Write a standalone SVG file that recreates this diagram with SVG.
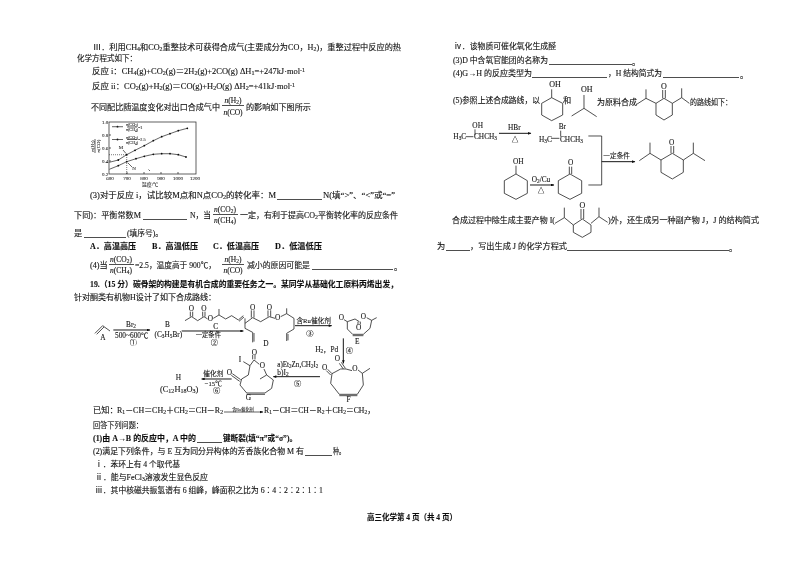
<svg xmlns="http://www.w3.org/2000/svg" width="800" height="565" viewBox="0 0 800 565">
<defs>
<style>
text{font-family:"Liberation Serif","Noto Sans CJK SC",serif;fill:#111;font-size:8.2px;stroke:#111;stroke-width:.12}
.b{font-weight:700}
.c{text-anchor:middle}
.s{font-size:72%;baseline-shift:-22%}
.u{font-size:70%;baseline-shift:35%}
.r{fill:none;stroke:#222;stroke-width:.8}
.z text{font-size:22px;stroke-width:.3}
.z .m{font-size:22px}
.z .t{font-size:19px}
.z .w{font-size:20px}
.z path,.z polygon.o{fill:none;stroke:#1c1c1c;stroke-width:2.3;stroke-linejoin:round}
.ax{fill:none;stroke:#222;stroke-width:.7}
.k{fill:none;stroke:#222;stroke-width:.6;stroke-dasharray:1 1}
.f{font-size:7.5px}
.l{font-size:5px;stroke-width:.05}
.d{fill:#111}
</style>
<marker id="ah" viewBox="0 0 10 8" refX="9" refY="4" markerWidth="12" markerHeight="8" markerUnits="userSpaceOnUse" orient="auto"><path d="M0 0L10 4L0 8Z" style="fill:#111;stroke:none"/></marker>
<marker id="ah1" viewBox="0 0 10 8" refX="9" refY="4" markerWidth="4" markerHeight="3" markerUnits="userSpaceOnUse" orient="auto"><path d="M0 0L10 4L0 8Z" style="fill:#111;stroke:none"/></marker>
<filter id="scan" x="0" y="0" width="100%" height="100%"><feGaussianBlur stdDeviation=".3"/></filter>
</defs>
<rect width="800" height="565" fill="#fff"/>
<g filter="url(#scan)">
<g id="left-text">
<text x="93" y="50" textLength="308" lengthAdjust="spacingAndGlyphs">Ⅲ．利用CH<tspan class="s">4</tspan>和CO<tspan class="s">2</tspan>重整技术可获得合成气(主要成分为CO，H<tspan class="s">2</tspan>)，重整过程中反应的热</text>
<text x="77" y="61" textLength="60" lengthAdjust="spacingAndGlyphs">化学方程式如下：</text>
<text x="92" y="74" textLength="213" lengthAdjust="spacingAndGlyphs">反应 i：CH<tspan class="s">4</tspan>(g)+CO<tspan class="s">2</tspan>(g)＝2H<tspan class="s">2</tspan>(g)+2CO(g)   ΔH<tspan class="s">1</tspan>=+247kJ·mol<tspan class="u">-1</tspan></text>
<text x="92" y="89" textLength="203" lengthAdjust="spacingAndGlyphs">反应 ii：CO<tspan class="s">2</tspan>(g)+H<tspan class="s">2</tspan>(g)＝CO(g)+H<tspan class="s">2</tspan>O(g)   ΔH<tspan class="s">2</tspan>=+41kJ·mol<tspan class="u">-1</tspan></text>
<text x="91" y="110" textLength="129" lengthAdjust="spacingAndGlyphs">不同配比随温度变化对出口合成气中</text>
<text class="c f" x="233" y="103"><tspan font-style="italic">n</tspan>(H<tspan class="s">2</tspan>)</text><path class="r" d="M222 105.500H244"/><text class="c f" x="233" y="115"><tspan font-style="italic">n</tspan>(CO)</text>
<text x="246" y="110" textLength="65" lengthAdjust="spacingAndGlyphs">的影响如下图所示</text>

<text x="90" y="198" textLength="186" lengthAdjust="spacingAndGlyphs">(3)对于反应 i，试比较M点和N点CO<tspan class="s">2</tspan>的转化率：M</text>
<text x="323" y="198" textLength="72" lengthAdjust="spacingAndGlyphs">N(填“&gt;”、“&lt;”或“=”</text>
<text x="74" y="218" textLength="67" lengthAdjust="spacingAndGlyphs">下同)：平衡常数M</text>
<text x="190" y="218" textLength="21" lengthAdjust="spacingAndGlyphs">N，当</text>
<text class="c f" x="225" y="212"><tspan font-style="italic">n</tspan>(CO<tspan class="s">2</tspan>)</text><path class="r" d="M213 214.500H238"/><text class="c f" x="225" y="223"><tspan font-style="italic">n</tspan>(CH<tspan class="s">4</tspan>)</text>
<text x="240" y="218" textLength="158" lengthAdjust="spacingAndGlyphs">一定，有利于提高CO<tspan class="s">2</tspan>平衡转化率的反应条件</text>
<text x="74" y="236">是</text>
<text x="127" y="236" textLength="36" lengthAdjust="spacingAndGlyphs">(填序号)。</text>
<text class="b" x="90" y="249" textLength="46" lengthAdjust="spacingAndGlyphs">A．高温高压</text>
<text class="b" x="152" y="249" textLength="46" lengthAdjust="spacingAndGlyphs">B．高温低压</text>
<text class="b" x="213" y="249" textLength="46" lengthAdjust="spacingAndGlyphs">C．低温高压</text>
<text class="b" x="275" y="249" textLength="47" lengthAdjust="spacingAndGlyphs">D．低温低压</text>
<text x="90" y="268">(4)当</text>
<text class="c f" x="121" y="262"><tspan font-style="italic">n</tspan>(CO<tspan class="s">2</tspan>)</text><path class="r" d="M109 264.500H134"/><text class="c f" x="121" y="273"><tspan font-style="italic">n</tspan>(CH<tspan class="s">4</tspan>)</text>
<text x="135" y="268" textLength="81" lengthAdjust="spacingAndGlyphs">=2.5，温度高于 900℃，</text>
<text class="c f" x="233" y="262"><tspan font-style="italic">n</tspan>(H<tspan class="s">2</tspan>)</text><path class="r" d="M222 264.500H244"/><text class="c f" x="233" y="273"><tspan font-style="italic">n</tspan>(CO)</text>
<text x="247" y="268" textLength="63" lengthAdjust="spacingAndGlyphs">减小的原因可能是</text>
<text x="394" y="270">。</text>
<text class="b" x="90" y="287" textLength="308" lengthAdjust="spacingAndGlyphs">19.（15 分）碳骨架的构建是有机合成的重要任务之一。某同学从基础化工原料丙烯出发，</text>
<text x="74" y="300" textLength="142" lengthAdjust="spacingAndGlyphs">针对酮类有机物H设计了如下合成路线：</text>
<path class="r" d="M277 199.500H322M143 219.500H187M84 237.500H126M312 269.500H393"/>
</g>

<g id="chart">
<rect class="ax" x="109" y="122" width="87" height="52"/>
<path class="ax" d="M109 135h2M109 148h2M109 161h2M127 174v-2M144 174v-2M161 174v-2M178 174v-2"/>
<text class="l" x="102" y="124">1.0</text><text class="l" x="102" y="137">0.8</text><text class="l" x="102" y="150">0.6</text><text class="l" x="102" y="163">0.4</text><text class="l" x="102" y="176">0.2</text>
<text class="l c" x="110" y="180">600</text><text class="l c" x="127" y="180">700</text><text class="l c" x="144" y="180">800</text><text class="l c" x="161" y="180">900</text><text class="l c" x="178" y="180">1000</text><text class="l c" x="195" y="180">1200</text>
<text class="l c" x="150" y="185.500">温度/℃</text>
<text class="l c" transform="translate(94 146) rotate(-90)"><tspan font-style="italic">n</tspan>(H<tspan class="s">2</tspan>)</text>
<path class="ax" d="M95 139v14"/>
<text class="l c" transform="translate(99.500 146) rotate(-90)"><tspan font-style="italic">n</tspan>(CO)</text>
<polyline class="ax" points="109.300,162.300 118.300,160 126.700,154.700 135,150.300 144.300,145.700 153.300,140.700 161.700,136.700 170,133.700 178.300,130.700 187.300,128.300"/>
<polyline class="ax" points="109.300,169.300 118.300,165.700 126.700,161.700 136,158.700 144.300,156.300 153.300,154.300 161.700,153.700 170,153.700 178.300,154.700 186,157"/>
<g class="d">
<circle cx="118.300" cy="160" r=".9"/><circle cx="126.700" cy="154.700" r=".9"/><circle cx="135" cy="150.300" r=".9"/><circle cx="144.300" cy="145.700" r=".9"/><circle cx="153.300" cy="140.700" r=".9"/><circle cx="161.700" cy="136.700" r=".9"/><circle cx="170" cy="133.700" r=".9"/><circle cx="178.300" cy="130.700" r=".9"/><circle cx="187.300" cy="128.300" r=".9"/>
<circle cx="118.300" cy="165.700" r=".9"/><circle cx="126.700" cy="161.700" r=".9"/><circle cx="136" cy="158.700" r=".9"/><circle cx="144.300" cy="156.300" r=".9"/><circle cx="153.300" cy="154.300" r=".9"/><circle cx="161.700" cy="153.700" r=".9"/><circle cx="170" cy="153.700" r=".9"/><circle cx="178.300" cy="154.700" r=".9"/><circle cx="186" cy="157" r=".9"/>
<circle cx="117.500" cy="126.700" r=".9"/><circle cx="117.500" cy="139.500" r=".9"/>
</g>
<path class="ax" d="M112 126.700h11M112 139.500h11"/>
<text class="l c" style="font-size:4.200px" x="132" y="126"><tspan font-style="italic">n</tspan>(CO<tspan class="s">2</tspan>)</text><path class="ax" d="M127 127h10"/><text class="l c" style="font-size:4.200px" x="132" y="131"><tspan font-style="italic">n</tspan>(CH<tspan class="s">4</tspan>)</text><text class="l" style="font-size:4.200px" x="138" y="128.500">=1</text>
<text class="l c" style="font-size:4.200px" x="132" y="138.500"><tspan font-style="italic">n</tspan>(CO<tspan class="s">2</tspan>)</text><path class="ax" d="M127 139.500h10"/><text class="l c" style="font-size:4.200px" x="132" y="143.500"><tspan font-style="italic">n</tspan>(CH<tspan class="s">4</tspan>)</text><text class="l" style="font-size:4.200px" x="138" y="141">=2.5</text>
<path class="k" d="M109 154.700H126.700V174"/>
<text class="l c" x="121" y="149">M</text><path class="ax" d="M123 150l3 3.500M128 163l4 4"/><text class="l c" x="134" y="170">N</text>
<path class="ax" d="M148.500 169.500l1.500 1.500"/>
</g>

<g id="synthesis" class="z" transform="translate(70 305) scale(.33333)">
<g id="node-A"><path d="M75 85L98 62L120 78M80 88L102 66"/><text class="c" x="99" y="104">A</text></g>
<g id="node-B"><text class="c" x="292" y="66">B</text><text class="c" x="295" y="96">(C<tspan class="s">3</tspan>H<tspan class="s">5</tspan>Br)</text></g>
<g id="node-C"><path d="M345 47L365 35L383 47L402 35L413 42M361 35V20M368 35V20M398 35V20M405 35V20M430 40L447 30L447 12M447 30L467 42L485 32L505 45L520 32M507 49L522 36"/><text class="c" x="364" y="18">O</text><text class="c" x="402" y="18">O</text><text class="c" x="421" y="49">O</text><text class="c" x="437" y="71">C</text></g>
<g id="node-D"><path d="M525 40V70L548 82V112M552 84V110M525 55L548 38L572 50L598 35L615 40M544 38V16M552 38V16M594 35V16M602 35V16M632 35L650 26V10M650 26L672 40V72L650 85V108M654 87V106"/><text class="c" x="548" y="15">O</text><text class="c" x="598" y="15">O</text><text class="c" x="623" y="46">O</text><text class="c" x="588" y="122">D</text></g>
<g id="node-E"><path d="M822 44L832 50L855 42L868 50M832 50V72L848 88H880L900 70L905 46L890 38M905 46L920 38M848 92H880M864 50V58M871 50V58"/><text class="c" x="814" y="45">O</text><text class="c" x="880" y="43">O</text><text class="c" x="866" y="74">O</text><text class="c" x="862" y="116">E</text></g>
<g id="node-F"><path d="M773 193L786 206M769 197L782 210M786 206L782 235L808 268H862L880 240L877 205L864 195M877 205L900 190M786 206L812 192L828 192L846 197M808 272H862M814 172L826 190M808 175L820 192"/><text class="c" x="802" y="168">O</text><text class="c" x="764" y="196">O</text><text class="c" x="855" y="198">O</text><text class="c" x="836" y="292">F</text></g>
<g id="node-G"><path d="M520 170L540 182L552 165L568 178M548 163V150M555 163V150M540 182L535 210L515 222M487 206L512 224M484 211L509 229M515 222L510 240L530 264H585L605 250L610 225L590 210L582 192M590 210L570 222M530 268H585"/><text class="c" x="510" y="172">I</text><text class="c" x="553" y="149">O</text><text class="c" x="577" y="188">O</text><text class="c" x="478" y="211">O</text><text class="c" x="535" y="286">G</text></g>
<g id="node-H"><text class="c" x="325" y="226">H</text><text x="270" y="262" style="font-size:27px" textLength="115" lengthAdjust="spacingAndGlyphs">(C<tspan class="s">12</tspan>H<tspan class="s">18</tspan>O<tspan class="s">3</tspan>)</text></g>
<g id="connectors">
<path d="M130 75H240" marker-end="url(#ah)" style="stroke-width:3"/>
<path d="M335 78H520" marker-end="url(#ah)" style="stroke-width:3"/>
<path d="M675 62H785" marker-end="url(#ah)" style="stroke-width:3"/>
<path d="M820 100V175" marker-end="url(#ah)" style="stroke-width:3"/>
<path d="M750 215H610" marker-end="url(#ah)" style="stroke-width:3"/>
<path d="M485 222H395" marker-end="url(#ah)" style="stroke-width:3"/>
</g>
<text class="c" x="183" y="66">Br<tspan class="s">2</tspan></text>
<text class="c" x="185" y="99">500~600℃</text>
<text class="c" x="190" y="120">①</text>
<text class="c t" x="415" y="96">一定条件</text>
<text class="c" x="433" y="120">②</text>
<text class="c w" x="731" y="55">含Ru催化剂</text>
<text class="c" x="720" y="92">③</text>
<text class="c" x="770" y="140">H<tspan class="s">2</tspan>，Pd</text>
<text class="c" x="838" y="145">④</text>
<text x="622" y="187" textLength="123" lengthAdjust="spacingAndGlyphs">a)Et<tspan class="s">2</tspan>Zn,CH<tspan class="s">2</tspan>I<tspan class="s">2</tspan></text>
<text x="622" y="211">b)I<tspan class="s">2</tspan></text>
<text class="c" x="683" y="244">⑤</text>
<text class="c w" x="430" y="213">催化剂</text>
<text class="c w" x="430" y="242">−15℃</text>
<text class="c" x="440" y="265">⑥</text>
</g>

<g id="bottom-text">
<text x="93" y="413">已知：</text>
<text x="117" y="413" textLength="106" lengthAdjust="spacingAndGlyphs">R<tspan class="s">1</tspan>－CH＝CH<tspan class="s">2</tspan>＋CH<tspan class="s">2</tspan>＝CH－R<tspan class="s">2</tspan></text>
<text class="c" style="font-size:4.200px;stroke-width:.05" x="243" y="410.500">含Ru催化剂</text>
<path class="ax" d="M224 412H263" marker-end="url(#ah1)" style="stroke-width:.7"/>
<text x="264" y="413" textLength="111" lengthAdjust="spacingAndGlyphs">R<tspan class="s">1</tspan>－CH＝CH－R<tspan class="s">2</tspan>＋CH<tspan class="s">2</tspan>＝CH<tspan class="s">2</tspan>，</text>
<text x="93" y="428" textLength="50" lengthAdjust="spacingAndGlyphs">回答下列问题：</text>
<text x="93" y="441" textLength="103" lengthAdjust="spacingAndGlyphs" class="b">(1)由 A→B 的反应中，A 中的</text>
<text x="223" y="441" textLength="74" lengthAdjust="spacingAndGlyphs" class="b">键断裂(填“π”或“σ”)。</text>
<text x="93" y="454" textLength="211" lengthAdjust="spacingAndGlyphs">(2)满足下列条件，与 E 互为同分异构体的芳香族化合物 M 有</text>
<text x="333" y="454" textLength="12" lengthAdjust="spacingAndGlyphs">种。</text>
<text x="95" y="467" textLength="85" lengthAdjust="spacingAndGlyphs">ⅰ．苯环上有 4 个取代基</text>
<text x="95" y="480" textLength="113" lengthAdjust="spacingAndGlyphs">ⅱ．能与FeCl<tspan class="s">3</tspan>溶液发生显色反应</text>
<text x="95" y="493" textLength="228" lengthAdjust="spacingAndGlyphs">ⅲ．其中核磁共振氢谱有 6 组峰，峰面积之比为 6∶4∶2∶2∶1∶1</text>
<path class="r" d="M197 442.500H222M305 455.500H332"/>
</g>

<text id="footer" class="b" x="367" y="520" textLength="90" lengthAdjust="spacingAndGlyphs">高三化学第 4 页（共 4 页）</text>

<g id="right-text">
<text x="454" y="49" textLength="102" lengthAdjust="spacingAndGlyphs">ⅳ．该物质可催化氧化生成醛</text>
<text x="453" y="63" textLength="95" lengthAdjust="spacingAndGlyphs">(3)D 中含氧官能团的名称为</text>
<text x="632" y="65">。</text>
<text x="453" y="76" textLength="79" lengthAdjust="spacingAndGlyphs">(4)G→H 的反应类型为</text>
<text x="608" y="76" textLength="54" lengthAdjust="spacingAndGlyphs">，H 结构简式为</text>
<text x="740" y="78">。</text>
<path class="r" d="M549 64.500H632M532 77.500H607M663 77.500H739"/>
<text x="453" y="103" textLength="87" lengthAdjust="spacingAndGlyphs">(5)参照上述合成路线，以</text>
<text x="563" y="103">和</text>
<text x="597" y="105" textLength="40" lengthAdjust="spacingAndGlyphs">为原料合成</text>
<text x="690" y="105" textLength="42" lengthAdjust="spacingAndGlyphs">的路线如下：</text>
<text x="452" y="223" textLength="103" lengthAdjust="spacingAndGlyphs">合成过程中除生成主要产物 I(</text>
<text x="608" y="223" textLength="151" lengthAdjust="spacingAndGlyphs">)外，还生成另一种副产物 J，J 的结构简式</text>
<text x="437" y="249">为</text>
<text x="470" y="249" textLength="97" lengthAdjust="spacingAndGlyphs">，写出生成 J 的化学方程式</text>
<text x="729" y="251">。</text>
<path class="r" d="M446 250.500H470M567 250.500H729"/>
</g>

<g id="route-molecules" class="z" transform="translate(430 35) scale(.33333)">
<g id="cyclohexanediol-like"><polygon class="o" points="335,205 365,188 398,205 398,240 365,257 335,240"/><path d="M365 188V163"/><text class="c" x="375" y="155" style="font-size:24px">OH</text></g>
<g id="isopropanol"><path d="M425 243L462 220L500 245M462 220V180"/><text class="c" x="470" y="170" style="font-size:24px">OH</text></g>
<g id="target-1"><polygon class="o" points="678,205 702,190 727,205 727,240 702,255 678,240"/><path d="M698 190V165M706 190V165M678 205L648 190L620 208M648 190V163M727 205L755 188L778 205M755 188V160"/><text class="c" x="702" y="163" style="font-size:24px">O</text></g>
</g>

<g id="route" class="z" transform="translate(430 110) scale(.33333)">
<g id="reagent-1"><text class="c m" x="143" y="53">OH</text><path d="M135 58V75M107 80H130"/><text class="m" x="70" y="88">H<tspan class="s">3</tspan>C</text><text class="m" x="132" y="88">CHCH<tspan class="s">3</tspan></text></g>
<g id="reagent-2"><text class="c m" x="397" y="56">Br</text><path d="M392 62V80M363 85H388"/><text class="m" x="327" y="95">H<tspan class="s">3</tspan>C</text><text class="m" x="390" y="95">CHCH<tspan class="s">3</tspan></text></g>
<g id="cyclohexanol"><polygon class="o" points="258,192 292,212 292,250 258,268 223,250 223,212"/><path d="M258 167V192"/><text class="c m" x="265" y="163">OH</text></g>
<g id="cyclohexanone"><polygon class="o" points="420,192 455,212 455,250 420,268 385,250 385,212"/><path d="M418 170V192M425 170V192"/><text class="c m" x="422" y="166">O</text></g>
<g id="target-2"><polygon class="o" points="693,150 727,130 760,150 760,187 727,207 693,187"/><path d="M723 108V130M731 108V130M693 150L660 130L628 152M660 130V98M760 150L790 130L825 152M790 130V98"/><text class="c m" x="725" y="105">O</text></g>
<g id="route-connectors">
<path d="M207 70H303" marker-end="url(#ah)" style="stroke-width:3"/>
<path d="M300 225H372" marker-end="url(#ah)" style="stroke-width:3"/>
<path d="M475 78H515V225H475"/>
<path d="M515 155H615" marker-end="url(#ah)" style="stroke-width:3"/>
</g>
<text class="c m" x="253" y="60">HBr</text>
<text class="c w" x="255" y="97">△</text>
<text class="c m" x="333" y="215">O<tspan class="s">2</tspan>/Cu</text>
<text class="c w" x="333" y="249">△</text>
<text class="c w" x="560" y="145">一定条件</text>
</g>

<g id="product-I" class="z" transform="translate(430 195) scale(.33333)">
<polygon class="o" points="430,90 457,72 483,90 483,112 457,127 430,112"/>
<path d="M453 72V42M461 72V42M430 90L403 68L375 85M403 68V38M483 85L507 65L533 82M507 65V38"/>
<text class="c" x="457" y="40" style="font-size:24px">O</text>
</g>
</g>
</svg>
